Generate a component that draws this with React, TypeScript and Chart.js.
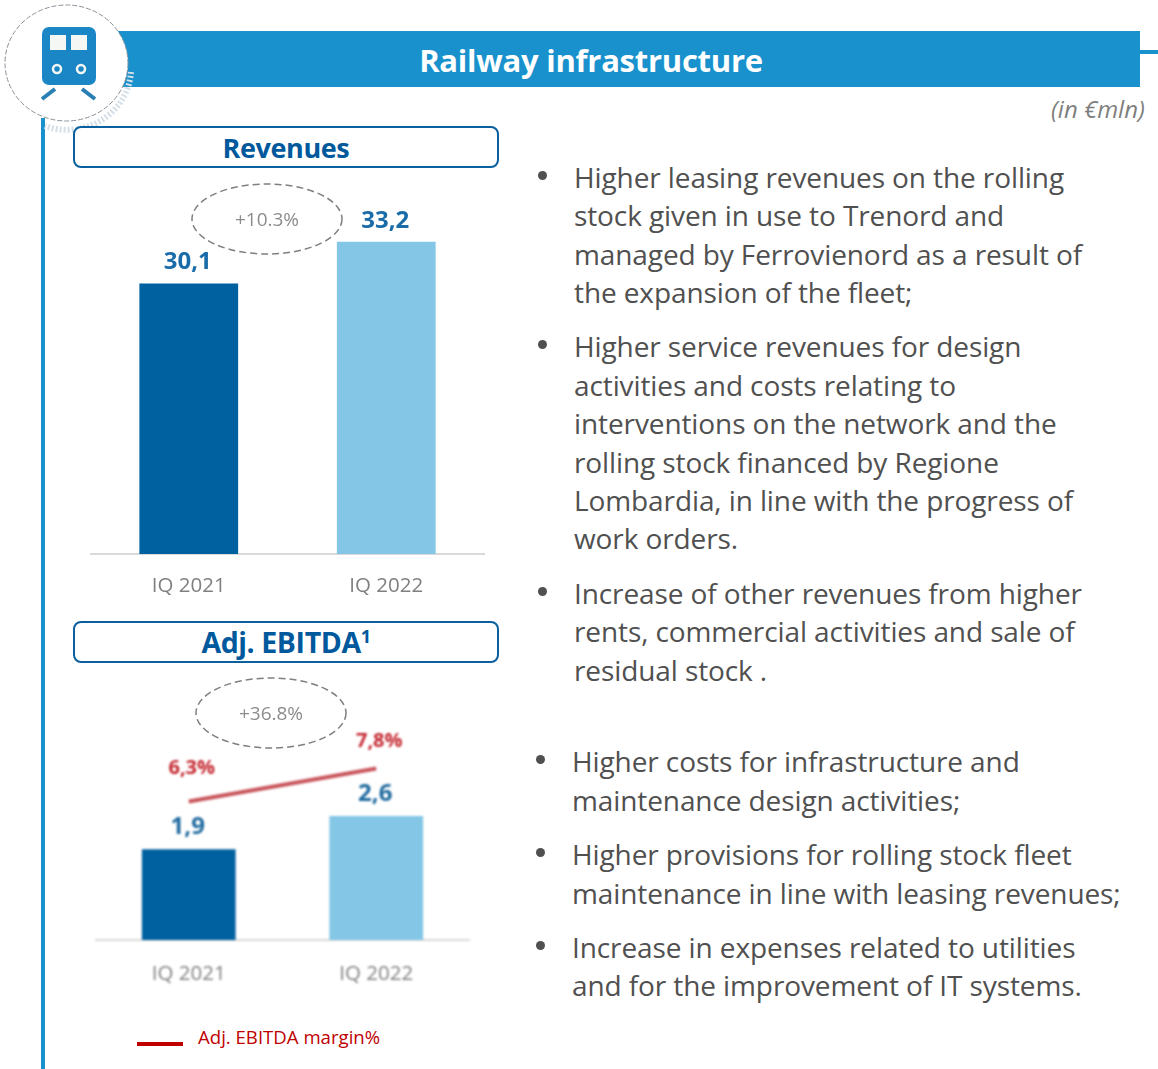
import React, { useEffect, useRef } from "react";
import { Chart, registerables } from "chart.js";

Chart.register(...registerables);

const categories = ["IQ 2021", "IQ 2022"];
const revenues = [30.1, 33.2];
const ebitda = [1.9, 2.6];
const margin = [6.3, 7.8];
const barColors = ["#0061a1", "#83c6e6"];
const FONT = '"Open Sans", sans-serif';

const fmt = (v: number, suffix = "") => v.toFixed(1).replace(".", ",") + suffix;

const labelPlugin = {
  id: "valueLabels",
  afterDatasetsDraw(chart: any) {
    const ctx = chart.ctx;
    chart.data.datasets.forEach((ds: any, i: number) => {
      const meta = chart.getDatasetMeta(i);
      const cfg = ds.valueLabel;
      if (!cfg) return;
      meta.data.forEach((el: any, j: number) => {
        ctx.save();
        ctx.font = `bold ${cfg.size}px ${FONT}`;
        ctx.fillStyle = cfg.color;
        ctx.textAlign = "center";
        ctx.textBaseline = "middle";
        ctx.fillText(fmt(ds.data[j], cfg.suffix), el.x + (cfg.dx || 0), el.y - cfg.offsets[j]);
        ctx.restore();
      });
    });
  },
};

function xAxis(height: number, padding: number) {
  return {
    grid: { display: false, drawTicks: false },
    border: { color: "#d9d9d9", width: 2 },
    ticks: { color: "#808080", padding, font: { family: FONT, size: 20.5 } },
    afterFit(s: any) { s.height = height; },
  };
}

function useChart(build: () => any) {
  const ref = useRef<HTMLCanvasElement>(null);
  useEffect(() => {
    const chart = new Chart(ref.current!, build());
    return () => chart.destroy();
  }, []);
  return ref;
}

const baseOptions = {
  animation: false,
  responsive: false,
  plugins: { legend: { display: false }, tooltip: { enabled: false } },
  layout: { padding: 0 },
};

function RevenueChart() {
  const ref = useChart(() => ({
    type: "bar",
    plugins: [labelPlugin],
    data: {
      labels: categories,
      datasets: [{
        data: revenues,
        backgroundColor: barColors,
        barPercentage: 0.5,
        categoryPercentage: 1,
        valueLabel: { size: 24, color: "#1a6ca8", offsets: [21, 21], dx: -1 },
      }],
    },
    options: {
      ...baseOptions,
      scales: { x: xAxis(46, 20), y: { display: false, min: 10.1, max: 38.5 } },
    },
  }));
  return <canvas ref={ref} width={395} height={430} style={{ position: "absolute", left: 89.5, top: 170, width: 395, height: 430, filter: "blur(0.35px)" }} />;
}

function EbitdaChart() {
  const ref = useChart(() => ({
    type: "bar",
    plugins: [labelPlugin],
    data: {
      labels: categories,
      datasets: [
        {
          type: "line",
          data: margin,
          yAxisID: "y1",
          borderColor: "#c9565c",
          borderWidth: 4,
          pointRadius: 0,
          valueLabel: { size: 20, color: "#c4272f", suffix: "%", offsets: [33, 27], dx: 3 },
          order: 0,
        },
        {
          data: ebitda,
          backgroundColor: barColors,
          barPercentage: 0.5,
          categoryPercentage: 1,
          valueLabel: { size: 24, color: "#1f6a9f", offsets: [22, 22], dx: -1 },
          order: 1,
        },
      ],
    },
    options: {
      ...baseOptions,
      scales: {
        x: xAxis(60, 22),
        y: { display: false, min: 0, max: 5.03 },
        y1: { display: false, min: 0, max: 10.91 },
      },
    },
  }));
  return <canvas ref={ref} width={375} height={300} style={{ position: "absolute", left: 95, top: 700, width: 375, height: 300, filter: "blur(0.8px)" }} />;
}

const bulletBlocks: { x: number; lines: [number, string][]; }[] = [
  { x: 574, lines: [[178, "Higher leasing revenues on the rolling"], [216, "stock given in use to Trenord and"], [255, "managed by Ferrovienord as a result of"], [293, "the expansion of the fleet;"]] },
  { x: 574, lines: [[347, "Higher service revenues for design"], [386, "activities and costs relating to"], [424, "interventions on the network and the"], [463, "rolling stock financed by Regione"], [501, "Lombardia, in line with the progress of"], [539, "work orders."]] },
  { x: 574, lines: [[594, "Increase of other revenues from higher"], [632, "rents, commercial activities and sale of"], [671, "residual stock ."]] },
  { x: 572, lines: [[762, "Higher costs for infrastructure and"], [801, "maintenance design activities;"]] },
  { x: 572, lines: [[855, "Higher provisions for rolling stock fleet"], [894, "maintenance in line with leasing revenues;"]] },
  { x: 572, lines: [[948, "Increase in expenses related to utilities"], [986, "and for the improvement of IT systems."]] },
];

const textLine = (x: number, y: number, size: number, color: string, extra: React.CSSProperties = {}) => ({
  position: "absolute" as const,
  left: x,
  top: y - 25,
  height: 50,
  lineHeight: "50px",
  fontSize: size,
  color,
  fontFamily: FONT,
  whiteSpace: "nowrap" as const,
  ...extra,
});

function HeaderBox({ top, size, children }: { top: number; size: number; children: React.ReactNode }) {
  return (
    <div style={{ position: "absolute", left: 73, top, width: 426, height: 42, boxSizing: "border-box", border: "2px solid #0a5f9e", borderRadius: 8, background: "#fff", color: "#00599c", fontFamily: FONT, fontWeight: 700, fontSize: size, textAlign: "center", lineHeight: "39px", letterSpacing: -0.4 }}>
      {children}
    </div>
  );
}

function Icon() {
  return (
    <svg width={140} height={135} style={{ position: "absolute", left: 0, top: 0 }}>
      <path d="M 131 72 A 64 62 0 0 1 45 126" fill="none" stroke="#d5dfe8" strokeWidth={6} strokeDasharray="2 2" />
      <ellipse cx={66.5} cy={63} rx={61.5} ry={58} fill="#fff" stroke="#8a9199" strokeWidth={1} strokeDasharray="5 2" />
      <rect x={42} y={27} width={54} height={58} rx={7} fill="#1a86c6" />
      <rect x={50} y={35} width={16} height={15} fill="#f4f7f4" />
      <rect x={71} y={35} width={16} height={15} fill="#f4f7f4" />
      <circle cx={57} cy={69} r={4} fill="none" stroke="#f4f7f4" strokeWidth={2.5} />
      <circle cx={81} cy={69} r={4} fill="none" stroke="#f4f7f4" strokeWidth={2.5} />
      <path d="M 55 89 L 42 99 M 82 89 L 95 99" stroke="#2a7fb4" strokeWidth={4} />
    </svg>
  );
}

function Ellipse({ cx, cy, label }: { cx: number; cy: number; label: string }) {
  return (
    <>
      <svg width={170} height={80} style={{ position: "absolute", left: cx - 85, top: cy - 40 }}>
        <ellipse cx={85} cy={40} rx={75} ry={35} fill="none" stroke="#7f7f7f" strokeWidth={1.5} strokeDasharray="7 4" />
      </svg>
      <div style={textLine(cx - 85, cy, 19, "#8c8c8c", { width: 170, textAlign: "center" })}>{label}</div>
    </>
  );
}

export default function App() {
  return (
    <div style={{ position: "absolute", left: 0, top: 0, width: 1158, height: 1069, overflow: "hidden", background: "#fff" }}>
      <div style={{ position: "absolute", left: 41, top: 118, width: 4, height: 951, background: "#1891cd" }} />
      <div style={{ position: "absolute", left: 118, top: 31, width: 1022, height: 56, background: "#1891cd" }} />
      <div style={{ position: "absolute", left: 1140, top: 50, width: 18, height: 4, background: "#1891cd" }} />
      <Icon />
      <div style={textLine(118, 60, 31, "#fff", { width: 946, textAlign: "center", fontWeight: 700, letterSpacing: -0.25 })}>Railway infrastructure</div>
      <div style={textLine(1051, 109, 24, "#7f7f7f", { fontStyle: "italic" })}>(in €mln)</div>

      <HeaderBox top={126} size={27}>Revenues</HeaderBox>
      <RevenueChart />
      <Ellipse cx={267} cy={219} label="+10.3%" />

      <HeaderBox top={621} size={28.5}>Adj. EBITDA<sup style={{ fontSize: 18, lineHeight: 0 }}>1</sup></HeaderBox>
      <EbitdaChart />
      <Ellipse cx={271} cy={713} label="+36.8%" />

      <div style={{ position: "absolute", left: 137, top: 1042, width: 46, height: 4, background: "#c00000" }} />
      <div style={textLine(198, 1037, 18.6, "#c00000")}>Adj. EBITDA margin%</div>

      {bulletBlocks.map((b, i) => (
        <React.Fragment key={i}>
          <div style={{ position: "absolute", left: b.x === 574 ? 538 : 536, top: b.lines[0][0] - 7, width: 9, height: 9, borderRadius: 5, background: "#505050" }} />
          {b.lines.map(([y, t], j) => (
            <div key={j} style={textLine(b.x, y - 1, 28, "#505050", { letterSpacing: -0.1 })}>{t}</div>
          ))}
        </React.Fragment>
      ))}
    </div>
  );
}
